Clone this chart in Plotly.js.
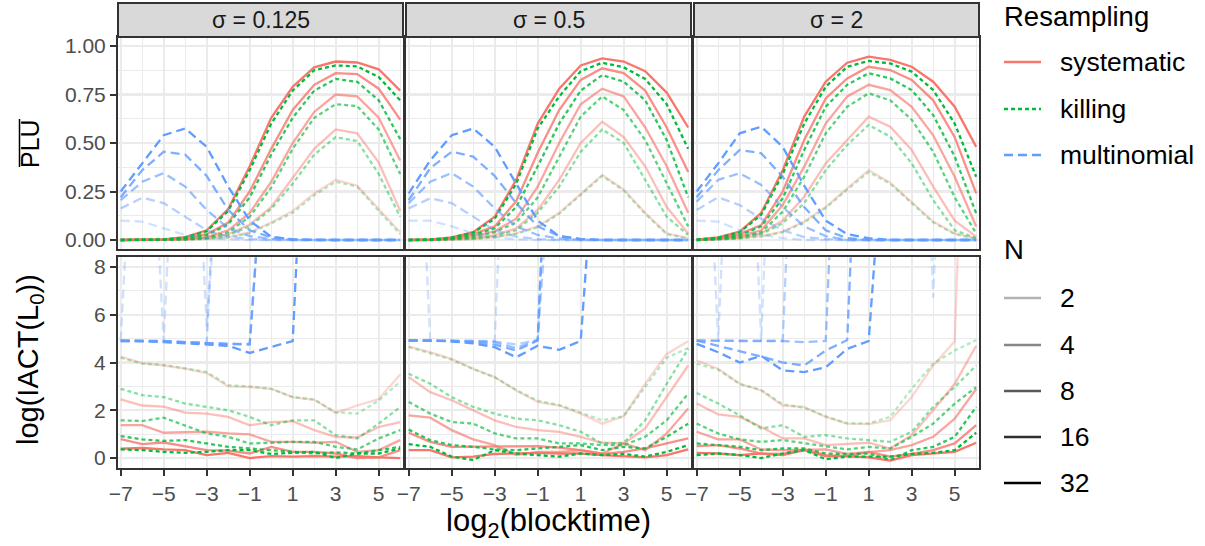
<!DOCTYPE html>
<html><head><meta charset="utf-8">
<script src="https://cdn.plot.ly/plotly-3.0.1.min.js"></script>
<style>body{margin:0;background:#fff;} #chart{width:1205px;height:546px;}</style>
</head><body><div id="chart"></div>
<script>
// ---------------- data ----------------
const log2Blocktime = [-7,-6,-5,-4,-3,-2,-1,0,1,2,3,4,5,6];
const sigmaLabels = ['σ = 0.125','σ = 0.5','σ = 2'];
const resamplingLevels = ['systematic','killing','multinomial'];
const nLevels = ['2','4','8','16','32'];
const xTickVals = [-7,-5,-3,-1,1,3,5];
const pluTickVals = [0,0.25,0.5,0.75,1];
const iactTickVals = [0,2,4,6,8];

// PLU, sigma = 0.125 (rows: N = 2,4,8,16,32)
const plu_s0125_systematic = [
 [0,0,0,0.002,0.006,0.014,0.04,0.09,0.15,0.24,0.31,0.28,0.16,0.04],
 [0,0,0,0.003,0.01,0.03,0.08,0.17,0.32,0.47,0.57,0.55,0.40,0.15],
 [0,0,0.001,0.005,0.015,0.05,0.14,0.30,0.50,0.66,0.75,0.74,0.63,0.41],
 [0,0,0.002,0.01,0.03,0.09,0.25,0.47,0.67,0.80,0.86,0.855,0.78,0.62],
 [0,0,0.003,0.015,0.05,0.16,0.38,0.63,0.79,0.89,0.92,0.915,0.88,0.77]];
const plu_s0125_killing = [
 [0,0,0,0.002,0.005,0.013,0.035,0.085,0.14,0.23,0.30,0.275,0.15,0.03],
 [0,0,0,0.002,0.008,0.025,0.07,0.16,0.29,0.44,0.53,0.51,0.34,0.12],
 [0,0,0.001,0.004,0.012,0.04,0.12,0.27,0.47,0.63,0.70,0.69,0.57,0.34],
 [0,0,0.002,0.009,0.025,0.08,0.22,0.44,0.63,0.77,0.83,0.815,0.72,0.52],
 [0,0,0.003,0.013,0.045,0.15,0.36,0.60,0.77,0.875,0.90,0.895,0.84,0.72]];
const plu_s0125_multinomial = [
 [0.10,0.095,0.06,0.026,0.009,0.003,0,0,0,0,0,0,0,0],
 [0.163,0.218,0.19,0.12,0.05,0.017,0.005,0,0,0,0,0,0,0],
 [0.205,0.30,0.345,0.275,0.155,0.06,0.02,0.005,0,0,0,0,0,0],
 [0.22,0.36,0.455,0.44,0.33,0.155,0.05,0.014,0.003,0,0,0,0,0],
 [0.25,0.395,0.54,0.575,0.48,0.275,0.10,0.017,0.003,0,0,0,0,0]];

// PLU, sigma = 0.5
const plu_s05_systematic = [
 [0,0,0.002,0.005,0.015,0.034,0.07,0.14,0.24,0.335,0.26,0.14,0.034,0.01],
 [0,0,0.004,0.01,0.025,0.06,0.155,0.31,0.50,0.61,0.53,0.38,0.17,0.034],
 [0,0.001,0.006,0.02,0.045,0.11,0.275,0.50,0.70,0.78,0.74,0.58,0.38,0.14],
 [0,0.001,0.01,0.03,0.07,0.2,0.45,0.67,0.825,0.885,0.86,0.77,0.58,0.35],
 [0,0.002,0.014,0.04,0.12,0.31,0.60,0.78,0.90,0.936,0.92,0.87,0.76,0.58]];
const plu_s05_killing = [
 [0,0,0.002,0.005,0.014,0.032,0.065,0.135,0.23,0.33,0.255,0.135,0.03,0.008],
 [0,0,0.003,0.008,0.02,0.05,0.14,0.275,0.455,0.57,0.50,0.31,0.12,0.026],
 [0,0,0.005,0.015,0.04,0.09,0.22,0.43,0.636,0.74,0.67,0.515,0.29,0.07],
 [0,0.001,0.008,0.025,0.06,0.17,0.38,0.60,0.77,0.85,0.816,0.72,0.515,0.22],
 [0,0.002,0.013,0.038,0.11,0.29,0.575,0.74,0.87,0.914,0.89,0.83,0.70,0.47]];
const plu_s05_multinomial = [
 [0.10,0.10,0.07,0.034,0.014,0.004,0,0,0,0,0,0,0,0],
 [0.163,0.215,0.19,0.12,0.05,0.017,0.005,0,0,0,0,0,0,0],
 [0.19,0.30,0.345,0.275,0.163,0.07,0.026,0.008,0,0,0,0,0,0],
 [0.205,0.37,0.455,0.43,0.33,0.19,0.07,0.02,0.005,0,0,0,0,0],
 [0.24,0.41,0.54,0.575,0.48,0.29,0.10,0.02,0.005,0,0,0,0,0]];

// PLU, sigma = 2
const plu_s2_systematic = [
 [0,0.003,0.008,0.02,0.043,0.095,0.17,0.266,0.36,0.296,0.198,0.095,0.034,0.008],
 [0,0.004,0.012,0.034,0.10,0.223,0.395,0.515,0.636,0.584,0.464,0.275,0.10,0.017],
 [0,0.006,0.02,0.05,0.18,0.378,0.60,0.74,0.80,0.773,0.687,0.54,0.326,0.07],
 [0.001,0.01,0.03,0.077,0.25,0.515,0.73,0.833,0.893,0.876,0.825,0.72,0.53,0.24],
 [0.002,0.014,0.043,0.14,0.36,0.636,0.816,0.914,0.945,0.928,0.893,0.816,0.687,0.48]];
const plu_s2_killing = [
 [0,0.003,0.007,0.018,0.04,0.09,0.165,0.26,0.35,0.29,0.19,0.09,0.03,0.006],
 [0,0.003,0.01,0.03,0.086,0.19,0.36,0.49,0.593,0.533,0.395,0.206,0.05,0.01],
 [0,0.005,0.015,0.04,0.146,0.326,0.55,0.687,0.756,0.72,0.62,0.455,0.22,0.034],
 [0.001,0.008,0.025,0.07,0.215,0.464,0.687,0.80,0.86,0.833,0.773,0.644,0.43,0.137],
 [0.002,0.012,0.04,0.13,0.34,0.60,0.79,0.893,0.923,0.91,0.868,0.773,0.60,0.326]];
const plu_s2_multinomial = [
 [0.10,0.095,0.05,0.026,0.01,0,0,0,0,0,0,0,0,0],
 [0.155,0.22,0.18,0.11,0.05,0.015,0.005,0,0,0,0,0,0,0],
 [0.198,0.31,0.344,0.284,0.17,0.07,0.02,0,0,0,0,0,0,0],
 [0.22,0.36,0.464,0.447,0.326,0.17,0.05,0.01,0,0,0,0,0,0],
 [0.25,0.395,0.55,0.584,0.48,0.28,0.10,0.03,0.009,0,0,0,0,0]];

// log(IACT(L0)), sigma = 0.125
const iact_s0125_systematic = [
 [4.25,3.97,3.875,3.74,3.56,3.0,2.97,2.9,2.55,2.44,1.89,2.2,2.47,3.5],
 [2.46,2.2,2.15,1.9,1.86,1.72,1.375,1.5,1.54,1.17,0.89,0.86,1.3,1.5],
 [1.375,1.375,1.06,1.07,1.1,1.03,0.99,0.68,0.68,0.64,0.68,0.26,0.33,0.75],
 [0.79,0.58,0.65,0.5,0.33,0.31,0.19,0.47,0.26,0.26,0.19,0.0,0.03,0.33],
 [0.39,0.42,0.36,0.33,0.125,0.22,0.0,0.08,0.06,0.08,0.06,0.08,0.03,0.0]];
const iact_s0125_killing = [
 [4.2,3.95,3.9,3.75,3.6,3.05,3.0,2.9,2.55,2.45,1.92,1.86,2.4,3.2],
 [2.9,2.63,2.55,2.28,2.14,2.0,1.72,1.375,1.58,1.58,0.96,0.82,1.44,2.14],
 [1.58,1.55,1.69,1.375,1.03,0.89,0.61,0.64,0.68,0.68,0.47,0.36,0.82,1.17],
 [0.92,0.78,0.72,0.75,0.61,0.47,0.4,0.33,0.26,0.19,0.24,0.19,0.33,0.47],
 [0.36,0.33,0.26,0.22,0.26,0.33,0.33,0.17,0.22,0.26,0.0,0.19,0.19,0.4]];
const iact_s0125_multinomial = [
 [4.92,22,4.9,24,5.5,26,30,30,30,30,30,30,30,30],
 [4.92,4.92,4.9,4.85,4.8,24,30,30,30,30,30,30,30,30],
 [4.92,4.92,4.9,4.85,4.8,4.78,4.78,24,30,30,30,30,30,30],
 [4.9,4.9,4.88,4.85,4.8,4.78,4.75,24,30,30,30,30,30,30],
 [4.9,4.9,4.85,4.8,4.78,4.7,4.4,4.65,4.9,24,30,30,30,30]];

// log(IACT(L0)), sigma = 0.5
const iact_s05_systematic = [
 [4.67,4.43,4.15,3.74,3.39,2.83,2.35,2.2,1.86,1.44,1.75,3.11,4.36,4.89],
 [3.39,2.76,2.42,2.0,1.58,1.3,1.17,1.1,0.89,0.64,0.61,1.24,2.55,3.875],
 [1.79,1.69,1.17,0.78,0.54,0.125,0.26,0.26,0.33,0.19,0.61,0.33,1.03,2.07],
 [1.06,0.68,0.47,0.47,0.47,0.47,0.5,0.44,0.33,0.17,0.26,0.4,0.61,0.82],
 [0.33,0.33,0.03,0.06,0.17,0.19,0.22,0.19,0.19,0.125,0.08,0.03,0.125,0.36]];
const iact_s05_killing = [
 [4.65,4.4,4.12,3.72,3.38,2.85,2.4,2.22,1.9,1.58,1.75,3.0,4.2,4.6],
 [3.53,3.11,2.55,2.14,1.86,1.65,1.58,1.375,1.1,0.61,0.64,1.58,3.11,4.57],
 [2.35,1.86,1.51,1.44,1.03,0.82,0.82,0.61,0.61,0.54,0.54,0.89,1.58,2.7],
 [1.19,0.75,0.54,0.47,0.36,0.33,0.4,0.47,0.54,0.33,0.47,0.4,0.89,1.44],
 [0.58,0.47,0.06,-0.08,0.33,0.19,0.125,0.06,0.19,0.125,0.17,0.06,0.26,0.54]];
const iact_s05_multinomial = [
 [24,4.92,4.92,4.92,4.9,26,30,30,30,30,30,30,30,30],
 [4.92,4.92,4.9,4.9,4.88,4.75,4.95,26,30,30,30,30,30,30],
 [4.92,4.92,4.9,4.88,4.85,4.6,4.95,26,30,30,30,30,30,30],
 [4.92,4.92,4.9,4.85,4.75,4.5,4.92,26,30,30,30,30,30,30],
 [4.92,4.92,4.88,4.8,4.64,4.22,4.7,4.53,4.9,26,30,30,30,30]];

// log(IACT(L0)), sigma = 2
const iact_s2_systematic = [
 [4.08,3.74,3.11,2.83,2.2,2.14,1.72,1.44,1.42,1.58,2.55,3.875,4.89,30],
 [2.28,1.83,1.72,1.3,0.82,0.82,0.54,0.58,0.64,0.4,0.96,2.0,3.11,4.7],
 [1.1,0.78,0.78,0.36,0.33,0.36,0.36,0.17,0.26,0.33,0.54,0.89,1.65,2.89],
 [0.5,0.54,0.4,0.19,0.17,0.36,0.125,0.08,0.26,0.06,0.17,0.33,0.61,1.375],
 [0.22,0.19,0.125,0.19,0.125,0.33,0.08,0.08,0.03,-0.11,0.125,0.19,0.26,0.64]];
const iact_s2_killing = [
 [3.95,3.7,3.1,2.85,2.25,2.1,1.75,1.45,1.45,1.72,2.9,3.95,4.5,4.94],
 [2.72,2.28,1.79,1.24,1.375,0.89,0.96,0.82,0.75,0.68,1.1,2.14,2.97,3.875],
 [1.44,1.03,0.78,0.68,0.75,0.61,0.47,0.36,0.47,0.4,0.89,1.44,2.28,2.97],
 [0.61,0.54,0.47,0.33,0.4,0.4,0.19,0.17,0.19,-0.08,0.33,0.47,0.89,2.14],
 [0.125,0.19,0.125,0.0,0.19,0.33,-0.05,0.06,0.06,0.06,0.17,0.22,0.33,1.06]];
const iact_s2_multinomial = [
 [24,4.92,26,4.9,28,30,30,30,30,30,30,6.7,30,30],
 [4.92,4.92,4.9,4.9,4.9,26,30,30,30,30,30,30,30,30],
 [4.92,4.9,4.9,4.9,4.9,4.85,4.9,26,30,30,30,30,30,30],
 [4.92,4.7,4.5,4.25,4.0,3.875,4.5,4.94,26,30,30,30,30,30],
 [4.78,4.43,4.0,4.28,3.67,3.6,3.8,4.57,4.9,26,30,30,30,30]];

// ---------------- drawing ----------------
const pluData = [
 [plu_s0125_systematic, plu_s0125_killing, plu_s0125_multinomial],
 [plu_s05_systematic, plu_s05_killing, plu_s05_multinomial],
 [plu_s2_systematic, plu_s2_killing, plu_s2_multinomial]];
const iactData = [
 [iact_s0125_systematic, iact_s0125_killing, iact_s0125_multinomial],
 [iact_s05_systematic, iact_s05_killing, iact_s05_multinomial],
 [iact_s2_systematic, iact_s2_killing, iact_s2_multinomial]];

const W = 1205, H = 546;
const px = v => v / W;
const py = v => 1 - v / H;
const colRGB = {systematic:[248,118,109], killing:[0,186,56], multinomial:[97,156,255]};
const dashOf = {systematic:'solid', killing:'4px,3px', multinomial:'9px,5px'};
const alphaOf = [0.3, 0.47, 0.65, 0.82, 1.0];
const FONT = 'Liberation Sans, Arial, Helvetica, sans-serif';

const cols = [[118,403],[406,691],[694,979]];
const rowsPx = [[37,249],[257.4,467.6]];
const xRange = [-7.1256, 6.13];
const pluRange = [-0.0464, 1.0464];
const iactRange = [-0.4, 8.4];

const traces = [];
for (let r = 0; r < 2; r++) {
  for (let p = 0; p < 3; p++) {
    const k = r * 3 + p + 1;
    const suf = k === 1 ? '' : String(k);
    const src = r === 0 ? pluData[p] : iactData[p];
    resamplingLevels.forEach((m, mi) => {
      src[mi].forEach((vals, ni) => {
        const c = colRGB[m];
        traces.push({
          type: 'scatter', mode: 'lines',
          x: log2Blocktime, y: vals,
          xaxis: 'x' + suf, yaxis: 'y' + suf,
          line: {color: `rgba(${c[0]},${c[1]},${c[2]},${alphaOf[ni]})`, width: 2.3, dash: dashOf[m]},
          hoverinfo: 'skip', showlegend: false
        });
      });
    });
  }
}

const layout = {
  width: W, height: H,
  margin: {l: 0, r: 0, t: 0, b: 0},
  paper_bgcolor: '#fff', plot_bgcolor: '#fff',
  showlegend: false,
  font: {family: FONT, color: '#000'},
  shapes: [], annotations: []
};

for (let r = 0; r < 2; r++) {
  for (let p = 0; p < 3; p++) {
    const k = r * 3 + p + 1;
    const suf = k === 1 ? '' : String(k);
    const isBottom = r === 1, isLeft = p === 0;
    layout['xaxis' + suf] = {
      domain: [px(cols[p][0]), px(cols[p][1])],
      range: xRange, anchor: 'y' + suf,
      tickmode: 'array', tickvals: xTickVals,
      ticks: isBottom ? 'outside' : '', ticklen: 6, tickwidth: 2, tickcolor: '#333333',
      showticklabels: isBottom,
      tickfont: {size: 21, color: '#4D4D4D', family: FONT},
      showgrid: true, gridcolor: '#EBEBEB', gridwidth: 2.2,
      minor: {tickmode: 'array', tickvals: [-6,-4,-2,0,2,4,6], showgrid: true, gridcolor: '#EBEBEB', gridwidth: 1.1, ticks: ''},
      zeroline: false,
      showline: true, mirror: true, linecolor: '#333333', linewidth: 2
    };
    const yt = r === 0 ? pluTickVals : iactTickVals;
    layout['yaxis' + suf] = {
      domain: [py(rowsPx[r][1]), py(rowsPx[r][0])],
      range: r === 0 ? pluRange : iactRange, anchor: 'x' + suf,
      tickmode: 'array', tickvals: yt,
      ticktext: r === 0 ? yt.map(v => v.toFixed(2)) : yt.map(String),
      ticks: isLeft ? 'outside' : '', ticklen: 6, tickwidth: 2, tickcolor: '#333333',
      showticklabels: isLeft,
      tickfont: {size: 21, color: '#4D4D4D', family: FONT},
      showgrid: true, gridcolor: '#EBEBEB', gridwidth: 2.2,
      minor: {tickmode: 'array', tickvals: r === 0 ? [0.125,0.375,0.625,0.875] : [1,3,5,7], showgrid: true, gridcolor: '#EBEBEB', gridwidth: 1.1, ticks: ''},
      zeroline: false,
      showline: true, mirror: true, linecolor: '#333333', linewidth: 2
    };
  }
}

// facet strips
cols.forEach((c, p) => {
  layout.shapes.push({type: 'rect', xref: 'paper', yref: 'paper',
    x0: px(c[0]), x1: px(c[1]), y0: py(37), y1: py(3),
    fillcolor: '#D9D9D9', line: {color: '#333333', width: 2}, layer: 'above'});
  layout.annotations.push({xref: 'paper', yref: 'paper', x: px((c[0] + c[1]) / 2), y: py(20),
    text: sigmaLabels[p], showarrow: false, xanchor: 'center', yanchor: 'middle',
    font: {size: 23, color: '#1A1A1A', family: FONT}});
});

// axis titles
layout.annotations.push({xref: 'paper', yref: 'paper', x: px(548.5), y: py(523),
  text: 'log<sub>2</sub>(blocktime)', showarrow: false, xanchor: 'center', yanchor: 'middle',
  font: {size: 31, color: '#000', family: FONT}});
layout.annotations.push({xref: 'paper', yref: 'paper', x: px(30), y: py(143),
  text: 'PLU', showarrow: false, textangle: -90, xanchor: 'center', yanchor: 'middle',
  font: {size: 25, color: '#000', family: FONT}});
layout.shapes.push({type: 'line', xref: 'paper', yref: 'paper',
  x0: px(19.5), x1: px(19.5), y0: py(119), y1: py(167), line: {color: '#000', width: 1.5}});
layout.annotations.push({xref: 'paper', yref: 'paper', x: px(30), y: py(360),
  text: 'log(IACT(L<sub>0</sub>))', showarrow: false, textangle: -90, xanchor: 'center', yanchor: 'middle',
  font: {size: 29, color: '#000', family: FONT}});

// legends
layout.annotations.push({xref: 'paper', yref: 'paper', x: px(1002), y: py(16),
  text: 'Resampling', showarrow: false, xanchor: 'left', yanchor: 'middle',
  font: {size: 27.5, color: '#000', family: FONT}});
const resY = [62, 109, 155];
resamplingLevels.forEach((m, i) => {
  const c = colRGB[m];
  layout.shapes.push({type: 'line', xref: 'paper', yref: 'paper',
    x0: px(1004), x1: px(1041), y0: py(resY[i]), y1: py(resY[i]),
    line: {color: `rgb(${c[0]},${c[1]},${c[2]})`, width: 2.5, dash: dashOf[m]}});
  layout.annotations.push({xref: 'paper', yref: 'paper', x: px(1058), y: py(resY[i]),
    text: m, showarrow: false, xanchor: 'left', yanchor: 'middle',
    font: {size: 26.5, color: '#000', family: FONT}});
});
layout.annotations.push({xref: 'paper', yref: 'paper', x: px(1002), y: py(250),
  text: 'N', showarrow: false, xanchor: 'left', yanchor: 'middle',
  font: {size: 27.5, color: '#000', family: FONT}});
const nY = [298, 345, 391, 437, 483];
nLevels.forEach((n, i) => {
  layout.shapes.push({type: 'line', xref: 'paper', yref: 'paper',
    x0: px(1004), x1: px(1041), y0: py(nY[i]), y1: py(nY[i]),
    line: {color: `rgba(0,0,0,${alphaOf[i]})`, width: 2.5}});
  layout.annotations.push({xref: 'paper', yref: 'paper', x: px(1058), y: py(nY[i]),
    text: n, showarrow: false, xanchor: 'left', yanchor: 'middle',
    font: {size: 26.5, color: '#000', family: FONT}});
});

Plotly.newPlot('chart', traces, layout, {staticPlot: true, displayModeBar: false});
</script></body></html>
